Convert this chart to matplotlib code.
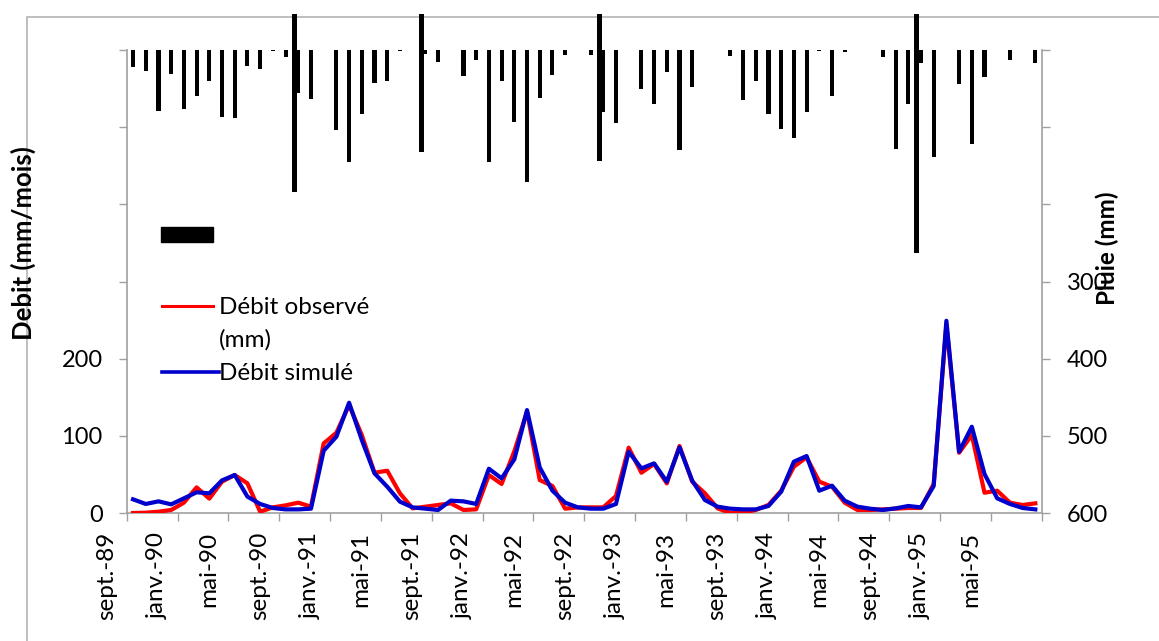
import matplotlib
matplotlib.use("Agg")
import matplotlib.pyplot as plt
from matplotlib.lines import Line2D
from matplotlib.patches import Rectangle
from matplotlib.transforms import ScaledTranslation
import numpy as np

plt.rcParams['font.family'] = ['Lato', 'DejaVu Sans']

# etiquettes de l'axe des temps (une tous les 4 mois, de sept. 1989 a mai 1995)
tick_labels = ['sept.-89', 'janv.-90', 'mai-90', 'sept.-90', 'janv.-91', 'mai-91',
               'sept.-91', 'janv.-92', 'mai-92', 'sept.-92', 'janv.-93', 'mai-93',
               'sept.-93', 'janv.-94', 'mai-94', 'sept.-94', 'janv.-95', 'mai-95']

# debit observe (mm/mois), sept. 1989 -> aout 1995
q_obs = [0, 0.4, 1.7, 3.9, 13.4, 33.2, 18.6, 40.6, 49.2, 38.4, 1.7, 7.3,
         9.9, 13.4, 8.2, 90.2, 104, 139.9, 101, 52.2, 54.8, 25.5, 6, 8.2,
         10.4, 12.5, 3.9, 4.7, 49.2, 37.6, 80, 131.2, 42.7, 35, 5.6, 7.3,
         7.3, 7.3, 22, 84.6, 52.2, 63.5, 38.4, 86.8, 40.6, 25.5, 6, 0,
         0.4, 3.9, 10.4, 28.9, 60, 72.1, 40.6, 34.1, 13.4, 3.9, 3.9, 4.7,
         5.6, 6.5, 6.5, 37.6, 244, 78.1, 101, 26.3, 28.9, 13.4, 10.4, 12.5]

# debit simule (mm/mois)
q_sim = [17.7, 11.7, 15.1, 11.2, 19, 26.8, 25.5, 42.3, 49.2, 21.2, 11.7, 6.5,
         4.7, 4.7, 5.6, 80.7, 98.9, 142.9, 94.6, 51.4, 34.1, 14.7, 7.3, 5.6,
         3.9, 16, 15.1, 11.7, 57.4, 44.9, 69.5, 133.4, 59.1, 28.9, 13.4, 7.3,
         5.6, 5.6, 11.7, 79.4, 57.8, 64.3, 40.6, 85, 41.9, 16.8, 8.2, 5.6,
         4.7, 4.7, 9.1, 27.6, 66.5, 73.8, 28.9, 35.4, 16, 8.2, 5.6, 3.9,
         6, 9.1, 7.3, 35, 249.1, 79.4, 111.8, 50.5, 19, 11.7, 6.5, 4.7]

# pluie mensuelle (mm)
pluie = [21.6, 26.8, 78.6, 31, 76.8, 59.2, 39.7, 87.2, 88.5, 20.7, 25, 1.5,
         9.5, 55.3, 63.5, 0, 103.6, 145.5, 83.3, 42.3, 40.2, 1.3, 0.3, 5.6,
         16, 0, 33.7, 13, 145.5, 40.2, 93.7, 170.6, 62.6, 32.8, 6.5, 0.3,
         6.5, 79.9, 94.6, 0, 50.1, 69.5, 28.1, 130, 47.5, 0.3, 0.3, 7.3,
         65.2, 40.6, 82.9, 102.5, 113.6, 80.3, 1, 59.2, 2, 0.3, 0.3, 9.5,
         128.7, 70, 17.3, 138.2, 0, 44.5, 121.8, 34.5, 0.3, 13, 0.3, 17.3]

# seconde serie de barres (quelques mois seulement)
pluie2_mois = [13, 23, 37, 62]
pluie2 = [183.5, 131.7, 143.4, 263.4]

W, H = 1159, 641
fig = plt.figure(figsize=(W / 100, H / 100), dpi=100)

# cadre du graphique (partiellement hors image)
fig.add_artist(Rectangle((27 / W, -0.5), 2, 1.5 - 17 / H, transform=fig.transFigure,
                         fill=False, edgecolor='#b4b4b4', linewidth=1.2, zorder=0))

ax = fig.add_axes([126.7 / W, 128 / H, 915 / W, 463 / H])
ax2 = ax.twinx()

gray = '#a0a0a0'
n = len(q_obs)
x = np.arange(n) + 0.5

ax.plot(x, q_obs, color='#ff0000', lw=3.0, zorder=3)
ax.plot(x, q_sim, color='#0000cc', lw=3.0, zorder=4)

# barres de pluie (axe inverse)
ax2.bar(x, pluie, width=0.32, color='black', zorder=2)
px_per_mm = 463 / 600
top_val = -(50 - 14) / px_per_mm  # les barres depassent jusqu'au bord du cadre
x2 = np.array(pluie2_mois) + 0.5 - 0.33
ax2.bar(x2, np.array(pluie2) - top_val, bottom=top_val, width=0.4,
        color='black', clip_on=False, zorder=2)

ax.set_yticks(np.arange(0, 601, 100))
ax.set_yticklabels(['0', '100', '200', '', '', '', ''])
ax2.set_yticks(np.arange(0, 601, 100))
ax2.set_yticklabels(['', '', '', '300', '400', '500', '600'])

# graduations de l'axe des temps ; etiquettes decalees a gauche des traits
ax.set_xticks(np.arange(0, n + 1, 4))
ax.set_xticklabels([])
shift = ScaledTranslation(-19.7 / 100, -19 / 100, fig.dpi_scale_trans)
for k, lab in enumerate(tick_labels):
    ax.text(4 * k, 0, lab, transform=ax.get_xaxis_transform() + shift,
            rotation=90, ha='center', va='top', fontsize=17.5, clip_on=False)
ax.set_xlim(0, n)
ax.set_ylim(0, 600)
ax2.set_ylim(600, 0)

ax.tick_params(axis='x', direction='out', length=5.8, color=gray, width=1)
ax.tick_params(axis='y', direction='out', length=5.8, color=gray, width=1,
               labelsize=17, pad=11.5)
ax2.tick_params(axis='y', direction='out', length=5.8, color=gray, width=1,
                labelsize=17, pad=12)

for a in (ax, ax2):
    for s in a.spines.values():
        s.set_visible(False)
ax.spines['left'].set_visible(True)
ax.spines['bottom'].set_visible(True)
ax2.spines['right'].set_visible(True)
for s in (ax.spines['left'], ax.spines['bottom'], ax2.spines['right']):
    s.set_color(gray)
    s.set_linewidth(1.2)
ax.patch.set_alpha(0)

# titres des axes
fig.text(23 / W, 1 - 243 / H, 'Debit (mm/mois)', rotation=90, fontsize=18.5,
         fontweight='bold', ha='center', va='center')
fig.text(1107 / W, 1 - 248 / H, 'Pluie (mm)', rotation=90, fontsize=17.5,
         fontweight='bold', ha='center', va='center')

# legende
fig.add_artist(Rectangle((161 / W, 1 - 241.7 / H), 51.7 / W, 15 / H,
                         transform=fig.transFigure, color='black'))
fig.add_artist(Line2D([161.7 / W, 212.7 / W], [1 - 305.7 / H] * 2, color='#ff0000',
                      lw=2.2, transform=fig.transFigure))
fig.add_artist(Line2D([161.7 / W, 219.3 / W], [1 - 371.7 / H] * 2, color='#0000cc',
                      lw=2.6, transform=fig.transFigure))
fig.text(219 / W, 1 - 307 / H, 'Débit observé', fontsize=17.5, va='center', ha='left')
fig.text(219 / W, 1 - 340 / H, '(mm)', fontsize=17.5, va='center', ha='left')
fig.text(219 / W, 1 - 374 / H, 'Débit simulé', fontsize=17.5, va='center', ha='left')

fig.savefig('out.png', dpi=100)
